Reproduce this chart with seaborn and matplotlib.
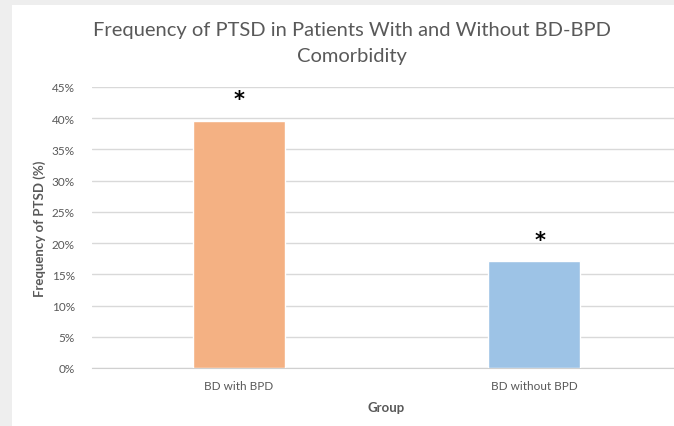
import matplotlib
matplotlib.use("Agg")
import matplotlib.pyplot as plt
import seaborn as sns
import pandas as pd
from matplotlib.ticker import PercentFormatter

# --- DATA ---
groups = ["BD with BPD", "BD without BPD"]
ptsd_freq = [0.396, 0.171]
bar_colors = ["#F4B183", "#9DC3E6"]
y_ticks = [0.00, 0.05, 0.10, 0.15, 0.20, 0.25, 0.30, 0.35, 0.40, 0.45]

df = pd.DataFrame({"Group": groups, "PTSD": ptsd_freq})

sns.set_style("white")
plt.rcParams["font.family"] = ["Lato", "DejaVu Sans"]

fig = plt.figure(figsize=(6.74, 4.27), dpi=100)
fig.patch.set_facecolor("#EEEEEE")

# white chart area (the grey strip on the left and top is outside)
bg = fig.add_axes([12 / 674, 0, 1, 1 - 6 / 427])
bg.set_facecolor("white")
bg.set_xticks([])
bg.set_yticks([])
for s in bg.spines.values():
    s.set_visible(False)

ax = fig.add_axes([91.5 / 674, 58 / 427, 590 / 674, 281 / 427])
ax.set_facecolor("none")
sns.barplot(data=df, x="Group", y="PTSD", hue="Group", palette=bar_colors,
            width=0.31, saturation=1, legend=False, ax=ax, zorder=3)

ax.set_ylim(0, 0.45)
ax.set_yticks(y_ticks)
ax.yaxis.set_major_formatter(PercentFormatter(1.0, decimals=0))
ax.grid(axis="y", color="#D9D9D9", linewidth=1, zorder=0)
for s in ["top", "right", "left"]:
    ax.spines[s].set_visible(False)
ax.spines["bottom"].set_color("#D0D0D0")
ax.tick_params(axis="both", length=0, labelsize=8.5, labelcolor="#595959")
ax.tick_params(axis="y", pad=12)
ax.tick_params(axis="x", pad=9)

ax.set_xlabel("Group", fontsize=9.5, fontweight="bold", color="#595959", labelpad=7)
ax.set_ylabel("Frequency of PTSD (%)", fontsize=9.5, fontweight="bold",
              color="#595959", labelpad=4)

# significance stars
for i, v in enumerate(ptsd_freq):
    ax.text(i + 0.02 * i, v + 0.034, "*", ha="center", va="center",
            fontsize=15, fontweight="bold", color="black", family="DejaVu Sans")

fig.text(0.522, 0.898, "Frequency of PTSD in Patients With and Without BD-BPD\nComorbidity",
         ha="center", va="center", fontsize=14.5, color="#595959", linespacing=1.6)

fig.savefig("out.png", dpi=100, facecolor=fig.get_facecolor())
